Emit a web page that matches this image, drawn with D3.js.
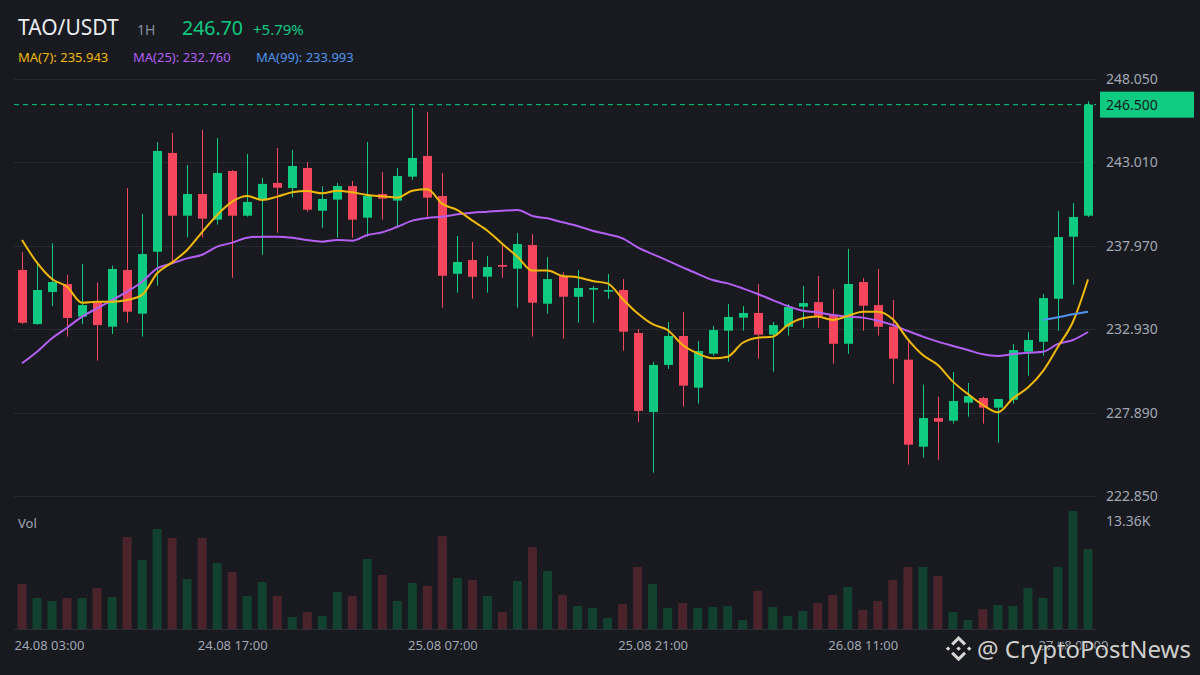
<!DOCTYPE html>
<html>
<head>
<meta charset="utf-8">
<script src="https://cdn.jsdelivr.net/npm/d3@7"></script>
<style>
  body { margin: 0; background: #181a20; }
  svg { display: block; font-family: "Noto Sans", "Open Sans", sans-serif; }
</style>
</head>
<body>
<svg id="chart" width="1200" height="675"></svg>
<script>

// Candle data, 1H, 24.08 03:00 -> 27.08 02:00
var opens = [236.51,233.24,235.18,235.66,233.69,234.59,233.08,236.51,233.87,237.61,243.58,239.79,241.10,239.55,242.49,239.79,240.74,241.77,241.46,242.67,240.09,240.76,241.58,239.67,241.10,240.70,242.15,243.40,240.98,236.28,237.11,236.10,236.81,236.59,238.02,234.47,236.16,234.89,235.32,235.20,235.30,232.70,227.93,230.77,232.52,229.40,231.45,232.84,233.63,233.91,232.60,233.08,234.29,234.57,233.79,232.05,235.78,234.39,233.08,231.09,225.83,227.56,227.40,228.49,228.77,228.19,228.67,231.57,232.17,234.77,238.52,239.79];
var highs = [237.60,236.91,238.12,236.21,236.87,235.74,236.77,241.46,239.89,244.24,244.79,242.85,244.97,244.48,242.55,243.52,242.07,243.88,243.76,243.03,241.58,241.77,241.89,244.24,242.43,242.67,246.30,246.06,242.37,238.56,238.20,237.35,238.08,238.74,238.68,237.29,236.39,236.51,235.54,236.27,235.96,232.94,230.95,233.37,233.97,232.22,233.12,234.45,234.33,235.66,233.37,234.45,235.54,236.14,235.36,237.78,236.02,236.57,234.69,232.24,229.58,228.85,230.34,229.68,228.85,228.71,232.04,232.76,235.06,240.07,240.56,246.70];
var lows = [233.24,233.20,234.33,232.48,233.24,231.03,232.64,233.32,232.48,235.56,236.93,238.48,238.48,239.25,236.04,239.73,237.43,238.76,240.88,240.03,239.06,238.46,238.46,238.52,239.55,239.12,241.95,239.73,234.23,235.14,234.77,235.14,236.04,234.23,232.48,233.87,232.36,233.32,233.32,234.77,231.63,227.32,224.26,230.53,228.25,228.43,231.33,230.97,232.84,231.15,230.36,232.54,233.02,233.02,230.85,231.45,232.84,232.54,229.64,224.74,225.17,225.04,227.22,227.64,227.22,226.07,228.43,230.12,231.33,232.84,235.62,239.71];
var closes = [233.32,235.30,235.78,233.61,234.39,233.18,236.57,233.99,237.47,243.70,239.79,241.10,239.61,242.37,239.79,240.62,241.71,241.48,242.79,240.15,240.80,241.58,239.55,241.00,240.82,242.19,243.28,240.88,236.16,236.99,236.10,236.69,236.71,238.08,234.53,235.96,234.89,235.42,235.42,235.30,232.78,227.99,230.77,232.52,229.52,231.61,232.88,233.67,233.91,232.60,233.18,234.27,234.51,233.73,232.05,235.66,234.35,233.08,231.15,225.95,227.56,227.34,228.59,228.89,228.19,228.71,231.67,232.28,234.81,238.50,239.71,246.50];

// volume in thousands
var volumes = [5.57,3.83,3.46,3.83,3.83,5.07,3.96,11.38,8.54,12.37,11.26,6.19,11.26,8.16,7.05,4.08,5.81,4.08,1.48,2.10,1.61,4.58,4.08,8.66,6.68,3.46,5.69,5.32,11.50,6.31,6.06,4.08,2.10,5.94,10.14,7.17,4.21,2.85,2.60,1.36,3.09,7.67,5.57,2.60,3.22,2.60,2.72,2.85,1.11,4.70,2.72,1.61,2.23,3.22,4.21,5.20,2.35,3.46,6.06,7.67,7.67,6.56,2.10,1.11,2.47,2.97,2.85,5.07,3.83,7.67,14.60,9.90];

// moving averages
var ma7 = [238.32,236.95,235.96,235.50,234.53,234.59,234.59,234.69,235.00,236.31,236.97,237.72,238.80,239.83,240.64,240.98,240.74,240.94,241.20,241.28,241.14,241.30,241.20,241.04,240.96,240.88,241.30,241.38,240.50,240.13,239.49,238.88,238.08,237.31,236.47,236.47,236.15,236.07,235.84,235.70,234.76,233.89,233.23,232.88,231.98,231.47,231.17,231.27,232.11,232.42,232.48,233.18,233.59,233.69,233.49,233.73,233.99,233.99,233.53,232.32,231.37,230.77,229.76,229.01,228.35,227.91,228.75,229.40,230.40,231.87,233.38,235.94];
var ma25 = [230.87,231.57,232.38,233.02,233.69,234.19,234.69,235.20,235.80,236.61,236.91,237.21,237.43,237.92,238.16,238.46,238.52,238.52,238.46,238.32,238.22,238.32,238.28,238.62,238.79,239.12,239.49,239.65,239.73,239.87,239.97,240.03,240.09,240.13,239.77,239.63,239.39,239.17,238.88,238.67,238.42,237.88,237.47,237.07,236.67,236.27,235.90,235.70,235.40,235.06,234.69,234.33,234.05,233.95,233.79,233.69,233.63,233.44,233.18,232.82,232.48,232.18,231.92,231.67,231.41,231.31,231.43,231.51,231.57,232.04,232.28,232.76];
var ma99 = [];
for (var k = 0; k < 68; k++) ma99.push(null);
ma99 = ma99.concat([233.49,233.65,233.83,233.99]);

var priceTicks = [248.05,243.01,237.97,232.93,227.89,222.85];
var timeTickIdx = [0,14,28,42,56,70];
var timeTickLabels = ["24.08 03:00","24.08 17:00","25.08 07:00","25.08 21:00","26.08 11:00","27.08 01:00"];

var lastPrice = 246.50;

var UP = "#0ecb81", DOWN = "#f6465d";
var UP_VOL = "#13412f", DOWN_VOL = "#4b232a";
var GRID = "#262a31", AXIS_TXT = "#a1a7b3";

var svg = d3.select("#chart");
var left = 14, right = 1096;

var x = d3.scaleLinear().domain([0, closes.length - 1]).range([22, 1088]);
var y = d3.scaleLinear().domain([222.85, 248.05]).range([496, 79]);
var yv = d3.scaleLinear().domain([0, 13.36]).range([629, 521]);

var candles = closes.map(function(c, i) {
  return {i: i, o: opens[i], h: highs[i], l: lows[i], c: c, v: volumes[i], up: c >= opens[i]};
});

/////////// Grid + price axis ///////////

svg.append("g").selectAll("line")
  .data(priceTicks)
  .enter().append("line")
    .attr("x1", left).attr("x2", right)
    .attr("y1", function(d) { return Math.round(y(d)) + 0.5; })
    .attr("y2", function(d) { return Math.round(y(d)) + 0.5; })
    .attr("stroke", GRID).attr("stroke-width", 1);

var yAxis = d3.axisRight(y).tickValues(priceTicks).tickFormat(d3.format(".3f")).tickSize(0).tickPadding(0);
var gy = svg.append("g").attr("transform", "translate(1106,0)").call(yAxis);
gy.select(".domain").remove();
gy.selectAll("text").attr("fill", AXIS_TXT).attr("font-size", 14).attr("font-family", "Noto Sans");

// volume baseline
svg.append("line")
  .attr("x1", left).attr("x2", right)
  .attr("y1", 629.5).attr("y2", 629.5)
  .attr("stroke", "#2b2f36");

/////////// Volume ///////////

svg.append("g").selectAll("rect")
  .data(candles)
  .enter().append("rect")
    .attr("x", function(d) { return x(d.i) - 4.5; })
    .attr("width", 9)
    .attr("y", function(d) { return yv(d.v); })
    .attr("height", function(d) { return yv(0) - yv(d.v); })
    .attr("fill", function(d) { return d.up ? UP_VOL : DOWN_VOL; });

svg.append("text").attr("x", 18).attr("y", 528).text("Vol")
  .attr("fill", AXIS_TXT).attr("font-size", 13);
svg.append("text").attr("x", 1106).attr("y", 526).text("13.36K")
  .attr("fill", AXIS_TXT).attr("font-size", 14);

/////////// Moving averages ///////////

function maLine(arr, color) {
  var line = d3.line()
    .defined(function(d) { return d != null; })
    .x(function(d, i) { return x(i); })
    .y(function(d) { return y(d); })
    .curve(d3.curveMonotoneX);
  svg.append("path").datum(arr)
    .attr("d", line)
    .attr("fill", "none")
    .attr("stroke", color)
    .attr("stroke-width", 2);
}

/////////// Candles ///////////

var gc = svg.append("g");
gc.selectAll("line")
  .data(candles)
  .enter().append("line")
    .attr("x1", function(d) { return Math.round(x(d.i)) + 0.5; })
    .attr("x2", function(d) { return Math.round(x(d.i)) + 0.5; })
    .attr("y1", function(d) { return y(d.h); })
    .attr("y2", function(d) { return y(d.l); })
    .attr("stroke", function(d) { return d.up ? UP : DOWN; })
    .attr("stroke-width", 1);

gc.selectAll("rect")
  .data(candles)
  .enter().append("rect")
    .attr("x", function(d) { return Math.round(x(d.i)) - 4; })
    .attr("width", 9)
    .attr("y", function(d) { return y(Math.max(d.o, d.c)); })
    .attr("height", function(d) { return Math.max(1.5, Math.abs(y(d.o) - y(d.c))); })
    .attr("fill", function(d) { return d.up ? UP : DOWN; });

maLine(ma25, "#b25ff2");
maLine(ma7, "#f0b90b");
maLine(ma99, "#4f95ee");

/////////// Last price ///////////

svg.append("line")
  .attr("x1", left).attr("x2", right)
  .attr("y1", y(lastPrice)).attr("y2", y(lastPrice))
  .attr("stroke", UP).attr("stroke-dasharray", "5,4");

svg.append("rect").attr("x", 1100).attr("y", y(lastPrice) - 13).attr("width", 94).attr("height", 26)
  .attr("fill", UP);
svg.append("text").attr("x", 1106).attr("y", y(lastPrice) + 5).text(d3.format(".3f")(lastPrice))
  .attr("fill", "#181a20").attr("font-size", 14);

/////////// Time axis ///////////

var xAxis = d3.axisBottom(x)
  .tickValues(timeTickIdx)
  .tickFormat(function(d, i) { return timeTickLabels[i]; })
  .tickSize(0).tickPadding(0);
var gx = svg.append("g").attr("transform", "translate(0,641)").call(xAxis);
gx.select(".domain").remove();
gx.selectAll("text").attr("fill", AXIS_TXT).attr("font-size", 13).attr("font-family", "Noto Sans");
gx.select(".tick text").attr("text-anchor", "start").attr("x", left - x(0));

/////////// Header ///////////

var header = svg.append("g");
header.append("text").attr("x", 18).attr("y", 35).text("TAO/USDT")
  .attr("fill", "#eaecef").attr("font-size", 21);
header.append("text").attr("x", 137).attr("y", 35).text("1H")
  .attr("fill", "#848e9c").attr("font-size", 14);
header.append("text").attr("x", 182).attr("y", 35).text("246.70")
  .attr("fill", UP).attr("font-size", 19.5);
header.append("text").attr("x", 253).attr("y", 35).text("+5.79%")
  .attr("fill", UP).attr("font-size", 15);

var maLabels = [
  {t: "MA(7): 235.943", c: "#f0b90b", x: 18},
  {t: "MA(25): 232.760", c: "#b25ff2", x: 133},
  {t: "MA(99): 233.993", c: "#4f95ee", x: 256}
];
header.selectAll(".ma").data(maLabels).enter().append("text")
  .attr("x", function(d) { return d.x; }).attr("y", 62)
  .attr("fill", function(d) { return d.c; })
  .attr("font-size", 13)
  .text(function(d) { return d.t; });

/////////// Watermark ///////////

var wm = svg.append("g").attr("opacity", 0.92);
var logo = wm.append("g").attr("transform", "translate(945,635) scale(0.215)")
  .attr("fill", "#e6e6e6").attr("stroke", "#1a1a1a").attr("stroke-width", 6);
var logoPolys = [
  "38.73,53.2 63.3,28.64 87.88,53.22 102.18,38.92 63.3,0 24.43,38.87",
  "0,63.31 14.3,49.01 28.6,63.31 14.3,77.61",
  "38.73,73.41 63.3,97.97 87.88,73.39 102.18,87.67 63.3,126.61 24.43,87.76",
  "97.99,63.31 112.29,49.01 126.59,63.3 112.29,77.6",
  "77.83,63.3 63.3,48.73 48.76,63.26 63.3,77.8"
];
logo.selectAll("polygon").data(logoPolys).enter().append("polygon")
  .attr("points", function(d) { return d; });

wm.append("text").attr("x", 977).attr("y", 658).text("@ CryptoPostNews")
  .attr("font-size", 24)
  .attr("fill", "#dedede")
  .attr("stroke", "#1a1a1a").attr("stroke-width", 2)
  .attr("paint-order", "stroke");

</script>
</body>
</html>
